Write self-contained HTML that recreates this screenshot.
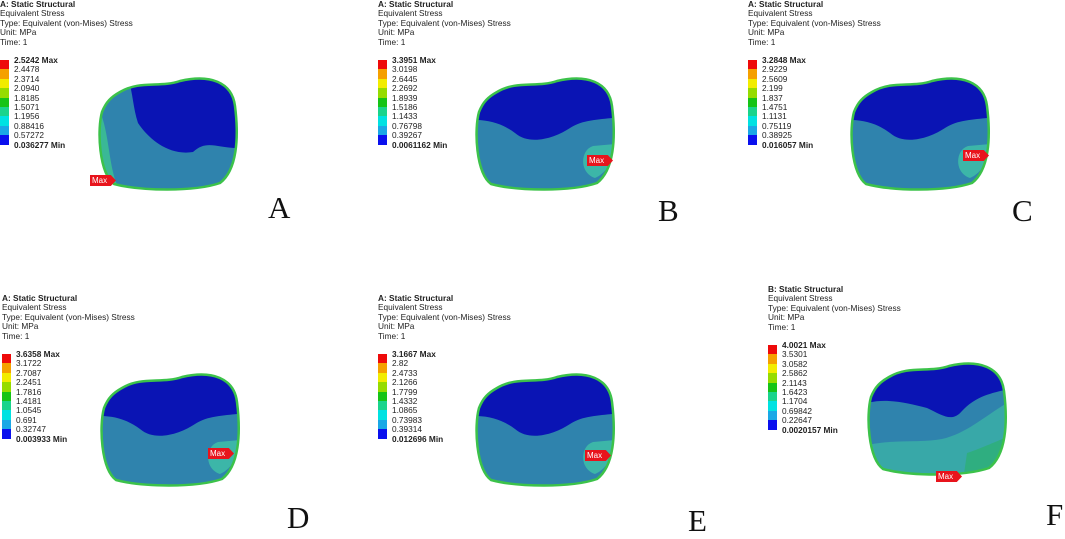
<!DOCTYPE html>
<html><head><meta charset="utf-8"><style>
body{margin:0;background:#fff;width:1065px;height:531px;overflow:hidden;position:relative;font-family:"Liberation Sans",sans-serif}
.p{position:absolute}
.hd{position:absolute;font-size:8.3px;line-height:9.4px;color:#222;white-space:nowrap}
.hd b{font-weight:bold}
.lg{position:absolute}
.sw{position:absolute;left:0;width:9px;height:9.4px}
.lb{position:absolute;left:14px;font-size:8.3px;color:#222;white-space:nowrap;line-height:9px}
.big{position:absolute;font-family:"Liberation Serif",serif;font-size:31px;color:#111}
svg{position:absolute;overflow:visible}
</style></head><body>
<div id="root"></div>
<script>
const panels=[
{id:'A',title:'A: Static Structural',x:0,y:0,legendY:60,vals:['2.5242 Max','2.4478','2.3714','2.0940','1.8185','1.5071','1.1956','0.88416','0.57272','0.036277 Min'],sx:98,sy:78,max:[90,175],lx:268,ly:190,type:'A'},
{id:'B',title:'A: Static Structural',x:378,y:0,legendY:60,vals:['3.3951 Max','3.0198','2.6445','2.2692','1.8939','1.5186','1.1433','0.76798','0.39267','0.0061162 Min'],sx:475,sy:78,max:[587,155],lx:658,ly:193,type:'B'},
{id:'C',title:'A: Static Structural',x:748,y:0,legendY:60,vals:['3.2848 Max','2.9229','2.5609','2.199','1.837','1.4751','1.1131','0.75119','0.38925','0.016057 Min'],sx:850,sy:78,max:[963,150],lx:1012,ly:193,type:'B'},
{id:'D',title:'A: Static Structural',x:2,y:294,legendY:354,vals:['3.6358 Max','3.1722','2.7087','2.2451','1.7816','1.4181','1.0545','0.691','0.32747','0.003933 Min'],sx:100,sy:374,max:[208,448],lx:287,ly:500,type:'B'},
{id:'E',title:'A: Static Structural',x:378,y:294,legendY:354,vals:['3.1667 Max','2.82','2.4733','2.1266','1.7799','1.4332','1.0865','0.73983','0.39314','0.012696 Min'],sx:475,sy:374,max:[585,450],lx:688,ly:503,type:'B'},
{id:'F',title:'B: Static Structural',x:768,y:285,legendY:345,vals:['4.0021 Max','3.5301','3.0582','2.5862','2.1143','1.6423','1.1704','0.69842','0.22647','0.0020157 Min'],sx:867,sy:363,max:[936,471],lx:1046,ly:497,type:'F'}
];
const colors=['#ee0a0a','#f5a000','#f2ec00','#96dc00','#16c416','#1ad48c','#00e2e2','#1aa8e6','#0a10ee'];
const root=document.getElementById('root');
panels.forEach(p=>{
  const g=document.createElement('div');g.className='p';
  
  
  const hd=document.createElement('div');hd.className='hd';hd.style.left=p.x+'px';hd.style.top=p.y+'px';
  
  
  hd.innerHTML='<b>'+p.title+'</b><br>Equivalent Stress<br>Type: Equivalent (von-Mises) Stress<br>Unit: MPa<br>Time: 1';
  g.appendChild(hd);
  const lg=document.createElement('div');lg.className='lg';lg.style.left=p.x+'px';lg.style.top=p.legendY+'px';
  
  
  colors.forEach((c,i)=>{const s=document.createElement('div');s.className='sw';s.style.top=(i*9.4)+'px';s.style.background=c;
    
    
    lg.appendChild(s);});
  p.vals.forEach((v,i)=>{const l=document.createElement('div');l.className='lb';l.style.top=(i*9.4-4)+'px';l.textContent=v;
    if(i==0||i==9)l.style.fontWeight='bold';
    
    
    lg.appendChild(l);});
  g.appendChild(lg);
  const svg=document.createElementNS('http://www.w3.org/2000/svg','svg');
  svg.setAttribute('width','150');svg.setAttribute('height','125');
  svg.style.left=p.sx+'px';svg.style.top=p.sy+'px';
  
  
  const cid='c'+p.id;
  const outline='M22,14 C42,2 62,10 82,3 C112,-4 134,4 137,28 C141,60 139,92 122,105 C96,114 42,113 16,106 C1,95 -1,52 4,34 C8,24 13,19 22,14Z';
  let dark;
  if(p.type=='A') dark='M30,0 H150 V70 C120,72 110,60 95,74 C70,78 50,60 40,45 C35,30 35,15 30,0Z';
  else if(p.type=='F') dark='M0,0 H150 V24 C125,30 110,32 95,48 C85,60 75,52 60,45 C40,40 20,35 0,40Z';
  else dark='M0,0 H150 V38 C130,42 110,40 95,50 C80,60 55,68 40,55 C28,46 15,42 0,42Z';
  let extra;
  if(p.type=='F') extra='<path d="M0,82 C30,76 55,80 75,76 C100,70 115,55 140,40 V125 H0Z" fill="#38a8a8"/><path d="M100,90 C115,85 125,80 150,70 V125 H95Z" fill="#2fae80"/>';
  else if(p.type=='A') extra='<path d="M0,30 C12,50 10,95 22,112 L0,125Z" fill="#3ab896"/>';
  else extra='<path d="M118,68 C105,72 104,95 120,100 C132,95 140,80 140,66Z" fill="#3cb6a8"/>';
  svg.innerHTML='<defs><clipPath id="'+cid+'"><path d="'+outline+'"/></clipPath></defs>'+
   '<g clip-path="url(#'+cid+')"><rect width="150" height="125" fill="#2f83ad"/>'+extra+'<path d="'+dark+'" fill="#0a14b4"/></g>'+
   '<path d="'+outline+'" fill="none" stroke="#3cc24a" stroke-width="2.5"/>';
  g.appendChild(svg);
  const mx=document.createElement('div');mx.className='p';
  mx.style.cssText='left:'+p.max[0]+'px;top:'+p.max[1]+'px;width:24px;height:11px;background:#e8141c;color:#fff;font-size:8px;line-height:11px;padding-left:2px;clip-path:polygon(0 0,80% 0,100% 50%,80% 100%,0 100%)';
  mx.textContent='Max';
  
  
  g.appendChild(mx);
  const big=document.createElement('div');big.className='big';big.style.left=p.lx+'px';big.style.top=p.ly+'px';big.textContent=p.id;
  
  
  g.appendChild(big);
  root.appendChild(g);
});
</script>
</body></html>
